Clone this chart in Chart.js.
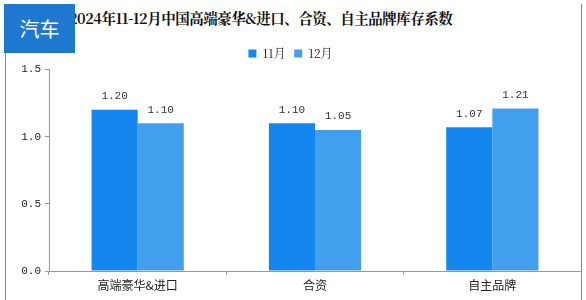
<!DOCTYPE html>
<html>
<head>
<meta charset="utf-8">
<script src="https://cdn.jsdelivr.net/npm/chart.js@4"></script>
<style>
  html, body { margin: 0; padding: 0; background: #fff; }
  #wrap { position: relative; width: 586px; height: 300px; overflow: hidden; }
  #tag {
    position: absolute; left: 4px; top: 4px; width: 71px; height: 49px;
    background: #1e78d0; color: #fff; font: 20px 'Noto Sans CJK SC', sans-serif;
    line-height: 49px; text-align: center; z-index: 2;
  }
  #title {
    position: absolute; left: 69px; top: 7px; font: bold 14.5px 'Noto Serif CJK SC', 'Noto Sans CJK SC', serif;
    color: #111; white-space: nowrap; letter-spacing: -0.5px;
  }
  #lb { position: absolute; left: 5px; top: 50px; width: 1px; height: 250px; background: #888; }
  #rb { position: absolute; left: 581px; top: 4px; width: 1px; height: 296px; background: #888; }
  canvas { position: absolute; left: 0; top: 0; }
</style>
</head>
<body>
<div id="wrap">
  <div id="tag">汽车</div>
  <div id="title">2024年11-12月中国高端豪华&amp;进口、合资、自主品牌库存系数</div>
  <div id="lb"></div>
  <div id="rb"></div>
  <canvas id="chart" width="586" height="300"></canvas>
</div>
<script>
const categories = ['高端豪华&进口', '合资', '自主品牌'];
const nov = [1.20, 1.10, 1.07];
const dec = [1.10, 1.05, 1.21];
const seriesNames = ['11月', '12月'];

const monoFont = "'Liberation Mono', 'Noto Sans CJK SC', monospace";

const valueLabels = {
  id: 'valueLabels',
  afterDatasetsDraw(chart) {
    const ctx = chart.ctx;
    ctx.save();
    ctx.font = '11px ' + monoFont;
    ctx.fillStyle = '#333';
    ctx.textAlign = 'center';
    ctx.textBaseline = 'bottom';
    chart.data.datasets.forEach((ds, i) => {
      chart.getDatasetMeta(i).data.forEach((bar, j) => {
        ctx.fillText(ds.data[j].toFixed(2), bar.x, bar.y - 8);
      });
    });
    ctx.restore();
  }
};

new Chart(document.getElementById('chart').getContext('2d'), {
  type: 'bar',
  data: {
    labels: categories,
    datasets: [
      { label: seriesNames[0], data: nov, backgroundColor: '#1387ef' },
      { label: seriesNames[1], data: dec, backgroundColor: '#419fee' }
    ]
  },
  options: {
    responsive: false,
    animation: false,
    layout: { padding: { left: 0, right: 5, top: 39, bottom: 0 } },
    datasets: { bar: { categoryPercentage: 0.52, barPercentage: 1.0 } },
    plugins: {
      legend: {
        position: 'top',
        labels: {
          boxWidth: 8, boxHeight: 8, padding: 8.5, color: '#222',
          font: { size: 12, family: "'Noto Serif CJK SC', 'Liberation Serif', serif" }
        }
      },
      tooltip: { enabled: false }
    },
    scales: {
      x: {
        afterFit(s) { s.height = 29; },
        border: { color: '#999' },
        grid: { drawOnChartArea: false, drawTicks: true, tickLength: 4, color: '#999' },
        ticks: { color: '#222', padding: 3, font: { size: 12, family: "'Noto Sans CJK SC', sans-serif" } }
      },
      y: {
        min: 0, max: 1.5,
        afterFit(s) { s.width = 49; },
        border: { color: '#999' },
        grid: { drawOnChartArea: false, drawTicks: true, tickLength: 4, color: '#999' },
        ticks: {
          stepSize: 0.5, color: '#222', padding: 4,
          font: { size: 11, family: monoFont },
          callback: v => v.toFixed(1)
        }
      }
    }
  },
  plugins: [valueLabels]
});
</script>
</body>
</html>
